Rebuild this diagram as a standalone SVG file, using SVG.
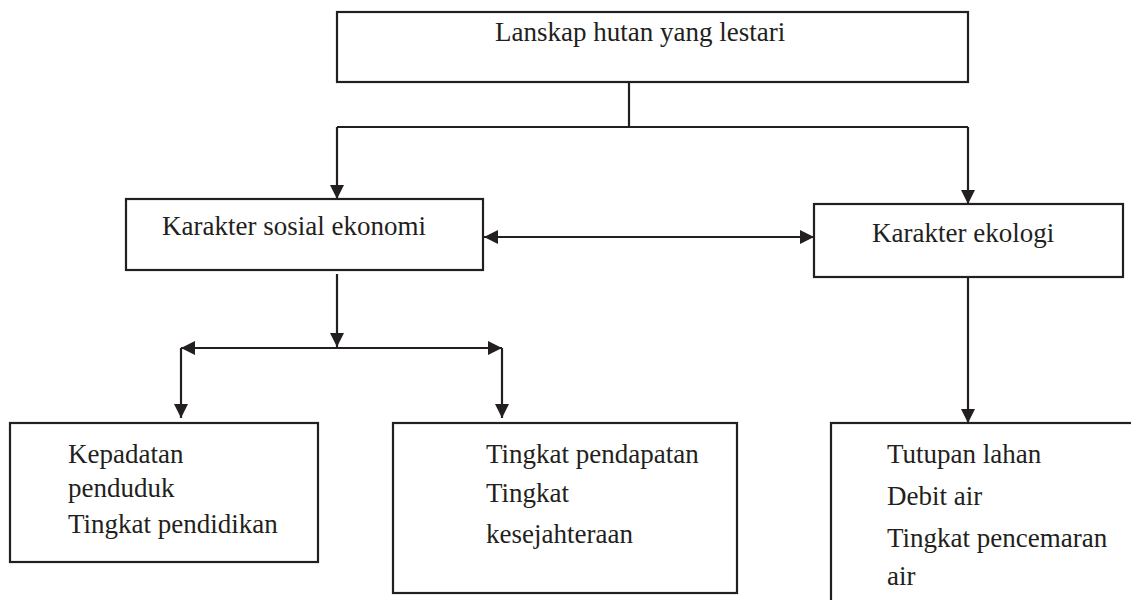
<svg xmlns="http://www.w3.org/2000/svg" width="1131" height="600" viewBox="0 0 1131 600">
<style>
.box{fill:#fff;stroke:#231f20;stroke-width:2.2}
.t{font-family:"Liberation Serif","Times New Roman",serif;font-size:27px;fill:#231f20}
.c{fill:none;stroke:#231f20;stroke-width:2.2}
</style>
<defs>
<marker id="ah" markerUnits="userSpaceOnUse" markerWidth="14" markerHeight="14" viewBox="0 0 12 12" refX="12" refY="6" orient="auto-start-reverse">
<path d="M0,0 L12,6 L0,12 z" fill="#231f20"/>
</marker>
</defs>
<rect width="1131" height="600" fill="#fff"/>
<g id="n-lanskap">
<rect class="box" x="337" y="12" width="631" height="70"/>
<text class="t" x="495" y="41">Lanskap hutan yang lestari</text>
</g>
<g id="n-sosial">
<rect class="box" x="126" y="199" width="357" height="71"/>
<text class="t" x="162" y="235">Karakter sosial ekonomi</text>
</g>
<g id="n-ekologi">
<rect class="box" x="814" y="204" width="309" height="73"/>
<text class="t" x="872" y="242">Karakter ekologi</text>
</g>
<g id="n-kepadatan">
<rect class="box" x="10" y="423" width="308" height="139"/>
<text class="t" x="68" y="463">Kepadatan</text>
<text class="t" x="68" y="497">penduduk</text>
<text class="t" x="68" y="533">Tingkat pendidikan</text>
</g>
<g id="n-pendapatan">
<rect class="box" x="393" y="423" width="344" height="170"/>
<text class="t" x="486" y="463">Tingkat pendapatan</text>
<text class="t" x="486" y="502">Tingkat</text>
<text class="t" x="486" y="543">kesejahteraan</text>
</g>
<g id="n-tutupan">
<rect class="box" x="831" y="423" width="320" height="200"/>
<text class="t" x="887" y="463">Tutupan lahan</text>
<text class="t" x="887" y="505">Debit air</text>
<text class="t" x="887" y="547">Tingkat pencemaran</text>
<text class="t" x="887" y="585">air</text>
</g>
<g id="connectors">
<path class="c" d="M629,82 V127 M337,127 H968"/>
<path class="c" d="M337,127 V199" marker-end="url(#ah)"/>
<path class="c" d="M968,127 V204" marker-end="url(#ah)"/>
<path class="c" d="M484,237 H814" marker-start="url(#ah)" marker-end="url(#ah)"/>
<path class="c" d="M337,274 V347" marker-end="url(#ah)"/>
<path class="c" d="M181,348 H502" marker-start="url(#ah)" marker-end="url(#ah)"/>
<path class="c" d="M181,348 V418" marker-end="url(#ah)"/>
<path class="c" d="M502,348 V418" marker-end="url(#ah)"/>
<path class="c" d="M968,277 V423" marker-end="url(#ah)"/>
</g>
</svg>
